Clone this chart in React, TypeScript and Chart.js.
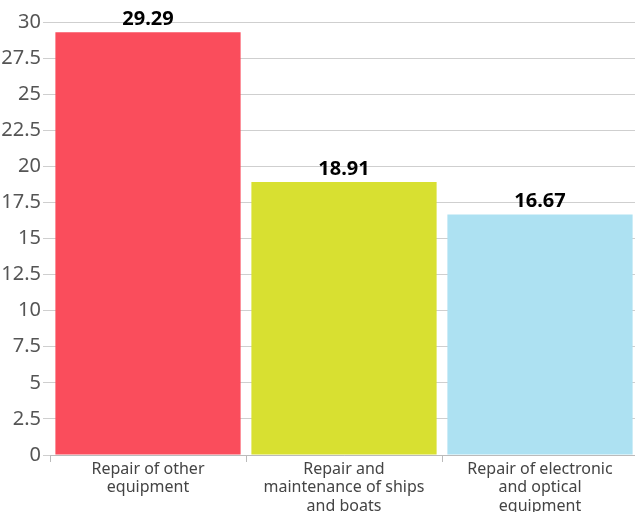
import React, { useEffect, useRef } from "react";
import { Chart, registerables } from "chart.js";

Chart.register(...registerables);

const categories: string[][] = [
  ["Repair of other", "equipment"],
  ["Repair and", "maintenance of ships", "and boats"],
  ["Repair of electronic", "and optical", "equipment"],
];
const values: number[] = [29.29, 18.91, 16.67];
const valueLabels: string[] = ["29.29", "18.91", "16.67"];
const barColors: string[] = ["#FA4D5C", "#D8E031", "#ADE1F2"];
const yTicks: number[] = [0, 2.5, 5, 7.5, 10, 12.5, 15, 17.5, 20, 22.5, 25, 27.5, 30];

const FONT = "'Noto Sans', sans-serif";

const labelPlugin = {
  id: "valueLabels",
  afterDatasetsDraw(chart: any) {
    const ctx = chart.ctx;
    const meta = chart.getDatasetMeta(0);
    ctx.save();
    ctx.font = `bold 20px ${FONT}`;
    ctx.fillStyle = "#000";
    ctx.textAlign = "center";
    ctx.textBaseline = "bottom";
    meta.data.forEach((bar: any, i: number) => {
      ctx.fillText(valueLabels[i], bar.x, bar.y - 3);
    });
    ctx.restore();
  },
};

export default function App() {
  const ref = useRef<HTMLCanvasElement | null>(null);
  useEffect(() => {
    document.body.style.margin = "0";
    document.body.style.overflow = "hidden";
    const chart = new Chart(ref.current!, {
      type: "bar",
      data: {
        labels: categories,
        datasets: [
          {
            data: values,
            backgroundColor: barColors,
            borderWidth: 0,
            categoryPercentage: 1,
            barPercentage: 0.945,
          },
        ],
      },
      options: {
        animation: false,
        responsive: false,
        maintainAspectRatio: false,
        layout: { padding: { top: 22, right: 0, left: 0, bottom: 0 } },
        plugins: { legend: { display: false }, tooltip: { enabled: false } },
        scales: {
          x: {
            grid: { drawOnChartArea: false, drawTicks: true, tickLength: 7, color: "#bbb" },
            border: { color: "#bbb" },
            ticks: {
              color: "#444",
              font: { family: FONT, size: 16, lineHeight: 1.15 },
              maxRotation: 0,
              autoSkip: false,
              padding: -2,
            },
            afterFit: (s: any) => {
              s.height = 70;
            },
          },
          y: {
            min: 0,
            max: 30,
            afterBuildTicks: (s: any) => {
              s.ticks = yTicks.map((v) => ({ value: v }));
            },
            grid: { color: "#cfcfcf", tickLength: 7 },
            border: { display: false },
            ticks: {
              color: "#555",
              font: { family: FONT, size: 20 },
              padding: 2,
            },
            afterFit: (s: any) => {
              s.width = 50;
            },
          },
        },
      },
      plugins: [labelPlugin],
    });
    return () => chart.destroy();
  }, []);
  return (
    <div style={{ position: "absolute", left: 0, top: 0, width: 635, height: 512, overflow: "hidden" }}>
      <canvas ref={ref} width={638} height={525} />
    </div>
  );
}
